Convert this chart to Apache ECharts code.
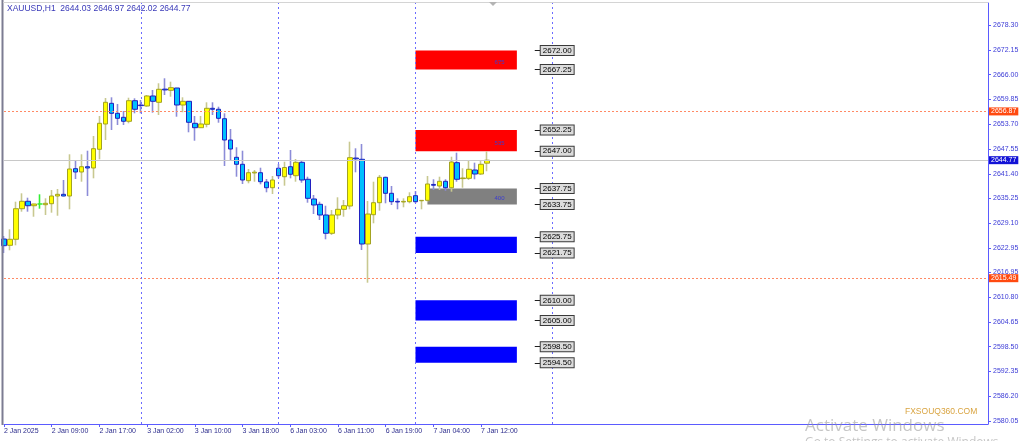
<!DOCTYPE html>
<html><head><meta charset="utf-8">
<script src="https://cdn.jsdelivr.net/npm/echarts@6/dist/echarts.min.js"></script>
<style>html,body{margin:0;padding:0;background:#fff}#c{width:1024px;height:441px}</style>
</head><body><div id="c"></div>
<script>
// ---------------- data ----------------
const symbolName = 'XAUUSD,H1';
const tradingDays = ['2 Jan','3 Jan','6 Jan','7 Jan','8 Jan','9 Jan','10 Jan','13 Jan'];
const xTickLabels = ['2 Jan 2025','2 Jan 09:00','2 Jan 17:00','3 Jan 02:00','3 Jan 10:00','3 Jan 18:00','6 Jan 03:00','6 Jan 11:00','6 Jan 19:00','7 Jan 04:00','7 Jan 12:00'];
const opens = [2625.21,2623.65,2625.14,2632.73,2634.57,2633.47,2633.90,2633.72,2633.97,2635.88,
 2636.30,2635.88,2642.66,2641.84,2643.15,2642.83,2647.47,2653.75,2658.88,2656.40,
 2655.41,2654.42,2659.53,2658.45,2658.21,2660.70,2659.13,2662.40,2662.11,2662.68,
 2658.46,2659.38,2653.92,2652.83,2653.67,2657.64,2657.40,2655.06,2649.78,2645.48,
 2643.75,2639.68,2641.60,2641.66,2639.36,2637.94,2642.76,2640.67,2643.15,2640.92,
 2644.24,2640.03,2635.14,2633.82,2631.17,2626.63,2631.17,2632.58,2633.40,2645.30,
 2644.99,2623.97,2631.24,2634.22,2640.52,2636.55,2634.55,2634.40,2634.47,2635.96,
 2634.70,2634.81,2638.75,2638.36,2639.53,2637.94,2644.15,2640.20,2640.27,2642.33,
 2641.34,2644.03];
const highs = [2625.96,2627.62,2634.47,2636.55,2635.46,2633.95,2636.30,2635.31,2637.37,2637.62,
 2639.85,2646.23,2644.57,2646.23,2647.12,2650.77,2655.73,2660.20,2660.37,2658.71,
 2656.97,2660.27,2660.12,2659.70,2660.95,2662.18,2663.85,2665.09,2664.24,2662.70,
 2660.37,2659.40,2655.73,2655.73,2659.13,2659.13,2658.04,2656.40,2652.51,2647.97,
 2647.12,2642.58,2642.33,2642.90,2640.10,2640.84,2643.82,2644.39,2647.30,2645.06,
 2644.81,2640.67,2636.13,2634.47,2633.47,2632.41,2635.56,2634.89,2649.36,2647.72,
 2648.78,2634.64,2639.43,2641.09,2640.67,2638.36,2635.31,2635.31,2636.80,2637.12,
 2634.85,2640.84,2640.03,2640.67,2640.03,2645.63,2646.63,2642.76,2644.81,2644.15,
 2644.64,2646.97];
const lows = [2621.74,2622.41,2623.65,2631.99,2631.99,2630.74,2632.73,2631.17,2631.74,2630.99,
 2635.80,2632.58,2640.10,2639.43,2635.88,2640.27,2644.99,2649.78,2652.26,2653.50,
 2653.50,2653.92,2656.40,2656.40,2658.04,2656.55,2655.98,2660.94,2660.52,2655.56,
 2656.65,2651.69,2649.60,2652.80,2652.93,2655.98,2654.07,2643.33,2644.81,2640.67,
 2638.86,2639.03,2639.43,2638.78,2636.80,2636.38,2640.27,2638.44,2640.27,2639.43,
 2639.18,2634.22,2631.41,2629.93,2625.14,2626.20,2630.10,2630.74,2632.58,2641.76,
 2622.48,2614.37,2629.11,2632.23,2634.07,2633.65,2632.58,2633.08,2634.07,2634.07,
 2632.58,2634.47,2637.37,2637.37,2637.20,2636.95,2639.43,2637.94,2639.85,2640.03,
 2641.09,2642.02];
const closes = [2623.55,2625.14,2632.73,2634.57,2633.47,2633.90,2633.90,2634.07,2635.88,2636.30,
 2635.88,2642.58,2641.84,2643.15,2642.83,2647.62,2653.92,2659.13,2656.40,2655.16,
 2654.42,2659.53,2657.40,2658.30,2660.70,2659.38,2662.36,2662.20,2662.76,2658.46,
 2659.38,2654.17,2652.83,2653.75,2657.64,2657.40,2655.16,2649.78,2647.54,2643.75,
 2639.85,2641.66,2641.80,2639.43,2637.94,2639.85,2640.92,2642.95,2641.27,2644.24,
 2639.85,2635.31,2633.65,2631.17,2626.63,2631.17,2632.58,2633.47,2645.39,2645.10,
 2623.97,2631.41,2634.22,2640.52,2636.55,2634.47,2634.40,2634.55,2635.71,2634.47,
 2634.80,2638.86,2638.55,2639.53,2637.94,2644.32,2640.03,2640.35,2642.51,2641.34,
 2643.75,2644.77];
const yTickLabels = ['2580.05','2586.20','2592.35','2598.50','2604.65','2610.80','2616.95','2622.95','2629.10','2635.25','2641.40','2647.55','2653.70','2659.85','2666.00','2672.15','2678.30'];
const bidPrice = 2644.77;
const levelPrices = [2656.87, 2615.49];
const zoneKind  = ['supply','supply','neutral','demand','demand','demand'];
const zoneHigh  = [2672.00, 2652.25, 2637.75, 2625.75, 2610.00, 2598.50];
const zoneLow   = [2667.25, 2647.00, 2633.75, 2621.75, 2605.00, 2594.50];
const zoneStart = ['7 Jan 01:00','7 Jan 01:00','7 Jan 03:00','7 Jan 01:00','7 Jan 01:00','7 Jan 01:00'];
const zoneEnd   = '7 Jan 18:00';
const zoneTag   = ['675','535','400','','',''];
const tagLabels = ['2672.00','2667.25','2652.25','2647.00','2637.75','2633.75','2625.75','2621.75','2610.00','2605.00','2598.50','2594.50'];
const tagFrom = '7 Jan 21:00', tagTo = '7 Jan 22:00';

// ---------------- build ----------------
const BAR_SLOTS = 166;
const categories = [];
tradingDays.forEach(d => { for (let h = 1; h <= 23; h++) categories.push(d + ' ' + String(h).padStart(2, '0') + ':00'); });
categories.length = BAR_SLOTS;
const daySeparators = tradingDays.slice(1, 5).map(d => d + ' 01:00');
const yTickValues = yTickLabels.map(Number);
const yMin = 2579.31, yMax = 2683.77;
const n = opens.length;

const BULL_FILL = '#ffff00', BEAR_FILL = '#00bfff';
const BULL_EDGE = '#a3a321', BEAR_EDGE = '#2020c0';
const BULL_WICK = '#c8c890', BEAR_WICK = '#8c8cd8';
const DOJI = '#33ee33';

const wickData = [], bodyData = [];
for (let i = 0; i < n; i++) {
  const o = opens[i], c = closes[i];
  const w = { value: [o, c, lows[i], highs[i]] };
  const b = { value: [o, c, Math.min(o, c), Math.max(o, c)] };
  if (o === c) {
    const st = { color: DOJI, color0: DOJI, borderColor: DOJI, borderColor0: DOJI, borderColorDoji: DOJI };
    w.itemStyle = st; b.itemStyle = st;
  }
  wickData.push(w); bodyData.push(b);
}
const zoneColor = { supply: '#ff0000', neutral: '#808080', demand: '#0000ff' };

const markAreaData = zoneKind.map((k, i) => [
  { xAxis: zoneStart[i], yAxis: zoneHigh[i], itemStyle: { color: zoneColor[k] },
    label: { show: !!zoneTag[i], formatter: zoneTag[i], position: [k === 'neutral' ? '75%' : '78%', '62%'],
      align: 'left', verticalAlign: 'middle', fontSize: 6, color: '#3b3bd0', fontFamily: 'Liberation Sans' } },
  { xAxis: zoneEnd, yAxis: zoneLow[i] }
]);

const tagLines = tagLabels.map(t => [
  { coord: [tagFrom, Number(t)], value: t },
  { coord: [tagTo, Number(t)] }
]);

const tickShow = (i) => i % 8 === 0 && i / 8 < xTickLabels.length;

const chart = echarts.init(document.getElementById('c'));
chart.setOption({
  animation: false,
  backgroundColor: '#ffffff',
  grid: { left: 4, right: 36, top: 3, bottom: 17 },
  xAxis: {
    type: 'category', data: categories, boundaryGap: false,
    axisLine: { show: true, lineStyle: { color: '#5b5bff', width: 1 } },
    axisTick: { show: true, interval: tickShow, length: 3, lineStyle: { color: '#5b5bff' } },
    axisLabel: { interval: tickShow, formatter: (v, i) => xTickLabels[i / 8] || '', align: 'left', margin: 4,
      fontSize: 7, color: '#2c2c8c', fontFamily: 'Liberation Sans' },
    splitLine: { show: false }
  },
  yAxis: {
    type: 'value', position: 'right', min: yMin, max: yMax,
    axisLine: { show: true, lineStyle: { color: '#5b5bff' } },
    axisTick: { show: true, customValues: yTickValues, length: 3, lineStyle: { color: '#5b5bff' } },
    axisLabel: { customValues: yTickValues, formatter: v => v.toFixed(2), margin: 5, fontSize: 7,
      color: '#3b3bd6', fontFamily: 'Liberation Sans' },
    splitLine: { show: false }
  },
  series: [
    {
      type: 'line', data: [], z: 1, silent: true,
      markArea: { silent: true, data: markAreaData },
      markLine: {
        silent: true, symbol: 'none', animation: false,
        data: [
          { yAxis: bidPrice, lineStyle: { color: '#c8c8c8', type: 'solid', width: 1 },
            label: { show: true, position: 'end', distance: 1, formatter: bidPrice.toFixed(2), color: '#ffffff',
              backgroundColor: '#1212d6', padding: [1, 2, 0, 2], fontSize: 7, fontFamily: 'Liberation Sans' } },
          ...levelPrices.map(p => ({ yAxis: p, lineStyle: { color: '#ff8a65', type: [2, 2], width: 1 },
            label: { show: true, position: 'end', distance: 1, formatter: p.toFixed(2), color: '#ffffff',
              backgroundColor: '#ff4a10', padding: [1, 2, 0, 2], fontSize: 7, fontFamily: 'Liberation Sans' } })),
          ...daySeparators.map(d => ({ xAxis: d, lineStyle: { color: '#6b6bff', type: [2, 3], width: 1 },
            label: { show: false } })),
          ...tagLines.map(pair => [
            Object.assign({}, pair[0], { lineStyle: { color: '#202020', type: 'solid', width: 1 },
              label: { show: true, position: 'end', distance: 0, formatter: pair[0].value, color: '#000000',
                backgroundColor: '#dcdcdc', borderColor: '#3a3a3a', borderWidth: 1, padding: [1, 2, 0, 2],
                fontSize: 8, fontFamily: 'Liberation Sans' } }),
            pair[1]
          ])
        ]
      }
    },
    {
      type: 'candlestick', name: 'wick', data: wickData, z: 3, barWidth: 1,
      itemStyle: { color: BULL_WICK, color0: BEAR_WICK, borderColor: BULL_WICK, borderColor0: BEAR_WICK,
        borderColorDoji: BULL_WICK, borderWidth: 1.6 },
      emphasis: { disabled: true }, silent: true
    },
    {
      type: 'candlestick', name: 'body', data: bodyData, z: 4, barWidth: 5,
      itemStyle: { color: BULL_FILL, color0: BEAR_FILL, borderColor: BULL_EDGE, borderColor0: BEAR_EDGE,
        borderColorDoji: BULL_EDGE, borderWidth: 1 },
      emphasis: { disabled: true }, silent: true
    }
  ],
  graphic: [
    { type: 'line', shape: { x1: 2.5, y1: 0, x2: 2.5, y2: 425 }, style: { stroke: '#7c7c92', lineWidth: 2 }, z: 10 },
    { type: 'line', shape: { x1: 3, y1: 2.5, x2: 988, y2: 2.5 }, style: { stroke: '#d4d4d4', lineWidth: 1 }, z: 10 },
    { type: 'polygon', shape: { points: [[489, 2], [497, 2], [493, 6]] }, style: { fill: '#b4b4b4' }, z: 10 },
    { type: 'text', x: 7, y: 9, style: { text: symbolName + '  ' + [opens[n - 1], highs[n - 1], lows[n - 1], closes[n - 1]].map(v => v.toFixed(2)).join(' '),
      fill: '#3838b8', fontSize: 8.5, fontFamily: 'Liberation Sans', verticalAlign: 'middle' }, z: 10 },
    { type: 'text', x: 905, y: 412, style: { text: 'FXSOUQ360.COM', fill: '#d9a441', fontSize: 8.5, fontFamily: 'Liberation Sans', verticalAlign: 'middle' }, z: 10 },
    { type: 'text', x: 805, y: 426, style: { text: 'Activate Windows', fill: 'rgba(150,150,150,0.55)', fontSize: 17, fontFamily: 'Open Sans', verticalAlign: 'middle' }, z: 11 },
    { type: 'text', x: 805, y: 443, style: { text: 'Go to Settings to activate Windows.', fill: 'rgba(150,150,150,0.55)', fontSize: 12, fontFamily: 'Open Sans', verticalAlign: 'middle' }, z: 11 }
  ]
});
</script></body></html>
